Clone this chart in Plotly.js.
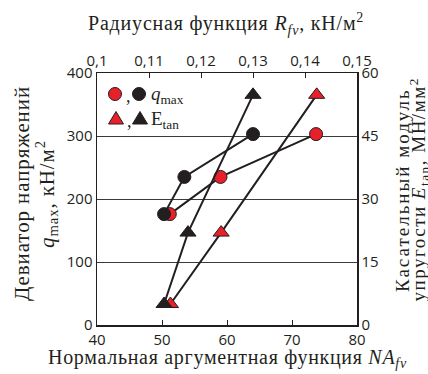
<!DOCTYPE html>
<html><head><meta charset="utf-8">
<script src="https://cdn.plot.ly/plotly-3.0.1.min.js"></script>
<style>html,body{margin:0;padding:0;background:#fff}#c{width:428px;height:374px}</style>
</head><body><div id="c"></div>
<script>
// Data
const naQ = [51.2, 59.0, 73.7];          // NA_fv for q_max (red circles)
const qNA = [176, 235, 303];
const rfQ = [0.1129, 0.1168, 0.1300];    // R_fv for q_max (black circles)
const qRF = [176, 235, 303];
const naE = [51.3, 59.1, 73.8];          // NA_fv for E_tan (red triangles)
const eNA = [5.0, 22.0, 54.8];
const rfE = [0.1129, 0.1175, 0.1300];    // R_fv for E_tan (black triangles)
const eRF = [5.0, 22.0, 54.8];

const xTicks = [40, 50, 60, 70, 80];
const x2Ticks = [0.1, 0.11, 0.12, 0.13, 0.14, 0.15];
const x2Text = ['0,1', '0,11', '0,12', '0,13', '0,14', '0,15'];
const yTicks = [0, 100, 200, 300, 400];
const y2Ticks = [0, 15, 30, 45, 60];

const RED = '#e8202a', BLK = '#231f20';
const tickFont = {family: "'Open Sans', sans-serif", size: 15, color: '#231f20'};
const serif = "'Liberation Serif', 'DejaVu Serif', serif";
const line = {color: BLK, width: 2};

const traces = [
  {x: naQ, y: qNA, xaxis: 'x', yaxis: 'y', mode: 'lines+markers', line,
   marker: {symbol: 'circle', size: 13, color: RED, line: {color: BLK, width: 1}}},
  {x: rfQ, y: qRF, xaxis: 'x2', yaxis: 'y', mode: 'lines+markers', line,
   marker: {symbol: 'circle', size: 13, color: BLK, line: {color: BLK, width: 1}}},
  {x: naE, y: eNA, xaxis: 'x', yaxis: 'y2', mode: 'lines+markers', line,
   marker: {symbol: 'triangle-up', size: 14, color: RED, line: {color: BLK, width: 1}}},
  {x: rfE, y: eRF, xaxis: 'x2', yaxis: 'y2', mode: 'lines+markers', line,
   marker: {symbol: 'triangle-up', size: 14, color: BLK, line: {color: BLK, width: 1}}}
];

function circ(xp, yp, col) {
  return {type: 'circle', xref: 'paper', yref: 'paper', xsizemode: 'pixel', ysizemode: 'pixel',
    xanchor: xp, yanchor: yp, x0: -6.5, x1: 6.5, y0: -6.5, y1: 6.5,
    fillcolor: col, line: {color: BLK, width: 1}};
}
function tri(xp, yp, col) {
  return {type: 'path', xref: 'paper', yref: 'paper', xsizemode: 'pixel', ysizemode: 'pixel',
    xanchor: xp, yanchor: yp, path: 'M -7.5,-5 L 7.5,-5 L 0,7.5 Z',
    fillcolor: col, line: {color: BLK, width: 1}};
}
const W = 260, H = 252;
const px = v => (v - 97) / W, py = v => (325 - v) / H;
const ann = (x, y, text, size, extra) => Object.assign({xref: 'paper', yref: 'paper', x: px(x), y: py(y),
  text, showarrow: false, xanchor: 'center', yanchor: 'middle', font: {family: serif, size, color: BLK}}, extra || {});
const sp = (t, ls) => '<span style="letter-spacing:' + ls + 'px">' + t + '</span>';

const layout = {
  width: 428, height: 374,
  margin: {l: 97, r: 71, t: 73, b: 49},
  paper_bgcolor: '#fff', plot_bgcolor: '#fff',
  showlegend: false,
  separators: ',.',
  xaxis: {range: [40, 80], tickvals: xTicks, ticks: 'inside', ticklen: 5, tickcolor: BLK,
    showline: true, linecolor: BLK, linewidth: 1.5, showgrid: false, zeroline: false,
    tickfont: tickFont},
  xaxis2: {range: [0.1, 0.15], overlaying: 'x', side: 'top', anchor: 'y',
    tickvals: x2Ticks, ticktext: x2Text, ticks: 'inside', ticklen: 5, tickcolor: BLK,
    showline: true, linecolor: BLK, linewidth: 1.5, showgrid: false, zeroline: false,
    tickfont: tickFont},
  yaxis: {range: [0, 400], tickvals: yTicks, ticks: '', showline: true, linecolor: BLK, linewidth: 1.5,
    showgrid: true, gridcolor: '#3a3a3a', gridwidth: 1, zeroline: false, tickfont: tickFont},
  yaxis2: {range: [0, 60], tickvals: y2Ticks, overlaying: 'y', side: 'right', anchor: 'x',
    ticks: '', showline: true, linecolor: BLK, linewidth: 1.5, showgrid: false, zeroline: false,
    tickfont: tickFont},
  shapes: [
    circ(px(115), py(94), RED), circ(px(139), py(94), BLK),
    tri(px(116), py(119), RED), tri(px(140), py(119), BLK)
  ],
  annotations: [
    // axis titles
    ann(227, 358, sp('Нормальная аргументная функция <i>NA</i><sub><i>fv</i></sub>', 0.7), 20),
    ann(226, 24, sp('Радиусная функция <i>R</i><sub><i>fv</i></sub>, кН/м<sup>2</sup>', 0.8), 20),
    ann(22, 194, sp('Девиатор напряжений', 0.9), 21, {textangle: -90}),
    ann(46, 194, sp('<i>q</i><sub>max</sub>, кН/м<sup>2</sup>', 0.9), 21, {textangle: -90}),
    ann(402, 190, sp('Касательный модуль', 2.0), 19, {textangle: -90}),
    ann(418.5, 190, sp('упругости <i>E</i><sub>tan</sub>, МН/мм<sup>2</sup>', 1.5), 19, {textangle: -90}),
    // legend text
    ann(124, 96, ',', 18, {xanchor: 'left'}),
    ann(125, 121, ',', 18, {xanchor: 'left'}),
    ann(149, 95, '<i>q</i><sub>max</sub>', 19, {xanchor: 'left'}),
    ann(149, 120, 'E<sub>tan</sub>', 19, {xanchor: 'left'})
  ]
};
Plotly.newPlot('c', traces, layout, {staticPlot: true, displayModeBar: false});
</script></body></html>
